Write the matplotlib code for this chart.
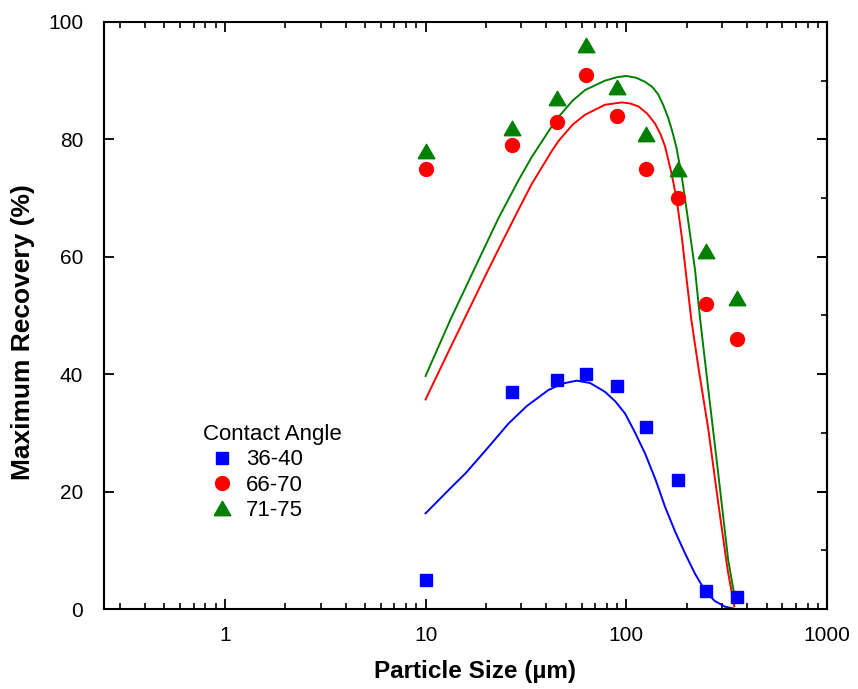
import matplotlib
matplotlib.use("Agg")
import matplotlib.pyplot as plt
from matplotlib.ticker import FixedLocator, LogLocator, NullFormatter, MultipleLocator

plt.rcParams["font.family"] = ["Liberation Sans", "DejaVu Sans"]

# measured recovery for each sieve fraction
boyut = [10, 27, 45, 63, 90, 125, 180, 250, 355]
aci_36_40 = [5, 37, 39, 40, 38, 31, 22, 3, 2]
aci_66_70 = [75, 79, 83, 91, 84, 75, 70, 52, 46]
aci_71_75 = [78, 82, 87, 96, 89, 81, 75, 61, 53]

# fitted curves, sampled along particle size
egri_x_mavi = [10, 13.5, 15.8, 20, 25.9, 32, 40.9, 48, 56.6, 66, 78.3, 88, 98.6, 110, 124, 140,
               156, 175, 196, 220, 246, 275, 310, 350]
egri_y_mavi = [16.3, 20.8, 23.1, 27.1, 31.6, 34.6, 37.3, 38.4, 38.9, 38.5, 37.0, 35.4, 33.3, 30.2,
               26.5, 22.0, 17.4, 13.2, 9.5, 6.0, 3.2, 1.4, 0.4, 0.0]

egri_x_kirmizi = [10, 13.5, 15.2, 20, 23.1, 29, 33.8, 42.5, 45.9, 54, 62.3, 78.3, 95, 105, 115,
                  127, 139, 148, 156, 168, 178, 189, 200, 211, 230, 256, 287, 320, 345]
egri_y_kirmizi = [35.7, 45.0, 48.6, 57.0, 61.3, 68.0, 72.4, 78.0, 79.7, 82.5, 84.2, 85.9, 86.3,
                  86.1, 85.6, 84.4, 82.7, 80.9, 78.8, 74.2, 69.9, 63.4, 56.0, 49.2, 40.6, 30.7,
                  18.1, 6.6, 0.5]

egri_x_yesil = [10, 13.3, 19.8, 23.1, 29, 33.8, 42.5, 45.9, 54, 62.3, 78.3, 90, 100, 112, 124,
                135, 144, 153, 162, 170, 178, 189, 203, 220, 233, 256, 287, 322, 345]
egri_y_yesil = [39.7, 49.3, 61.8, 66.6, 73.0, 77.0, 82.2, 83.8, 86.6, 88.4, 90.0, 90.6, 90.8,
                90.5, 89.8, 88.9, 87.7, 85.8, 83.6, 81.2, 78.5, 73.7, 66.3, 57.8, 49.5, 37.5,
                23.1, 8.3, 2.5]

fig = plt.figure(figsize=(8.58, 6.89), dpi=100)
ax = fig.add_axes([0.1212, 0.1161, 0.8427, 0.8520])

mavi = "#0000ff"
kirmizi = "#ff0000"
yesil = "#008000"

# equilateral triangle, wider than tall
ucgen = [(-1, -0.866), (1, -0.866), (0, 0.866), (-1, -0.866)]

ax.plot(egri_x_mavi, egri_y_mavi, color=mavi, lw=1.4)
ax.plot(egri_x_kirmizi, egri_y_kirmizi, color=kirmizi, lw=1.4)
ax.plot(egri_x_yesil, egri_y_yesil, color=yesil, lw=1.4)

ax.plot(boyut, aci_36_40, ls="none", marker="s", ms=8.7, color=mavi, label="36-40")
ax.plot(boyut, aci_66_70, ls="none", marker="o", ms=10, color=kirmizi, label="66-70")
ax.plot(boyut, aci_71_75, ls="none", marker=ucgen, ms=12, color=yesil, label="71-75")

ax.set_xscale("log")
ax.set_xlim(0.25, 1000)
ax.set_ylim(0, 100)

ax.xaxis.set_major_locator(FixedLocator([1, 10, 100, 1000]))
ax.set_xticklabels(["1", "10", "100", "1000"])
ax.xaxis.set_minor_locator(LogLocator(base=10, subs=range(2, 10)))
ax.xaxis.set_minor_formatter(NullFormatter())
ax.yaxis.set_major_locator(MultipleLocator(20))

ax.tick_params(axis="both", which="major", direction="in", length=7, width=1.3,
               labelsize=15, top=True, right=True)
ax.tick_params(axis="x", which="major", pad=12)
ax.tick_params(axis="y", which="major", pad=15)
ax.tick_params(axis="x", which="minor", direction="in", length=4, width=1.2, top=True)

# minor y ticks only on the right spine
sag = ax.secondary_yaxis("right")
sag.yaxis.set_major_locator(MultipleLocator(20))
sag.yaxis.set_minor_locator(MultipleLocator(10))
sag.tick_params(which="both", direction="in", labelright=False)
sag.tick_params(which="major", length=7, width=1.3)
sag.tick_params(which="minor", length=4, width=1.2)
sag.spines["right"].set_linewidth(1.5)

for s in ax.spines.values():
    s.set_linewidth(1.5)

ax.set_xlabel("Particle Size (µm)", fontsize=17.5, fontweight="bold", va="center")
ax.set_ylabel("Maximum Recovery (%)", fontsize=19, fontweight="bold", va="center", ha="center")
ax.xaxis.set_label_coords(0.513, -0.107)
ax.yaxis.set_label_coords(-0.112, 0.472)

leg = ax.legend(title="Contact Angle", loc="upper left", bbox_to_anchor=(0.1245, 0.3305),
                frameon=False, fontsize=16, title_fontsize=16, handletextpad=0.25,
                labelspacing=0.2, borderaxespad=0, handlelength=1.7)
leg._legend_box.align = "left"

fig.savefig("out.png", dpi=100)
